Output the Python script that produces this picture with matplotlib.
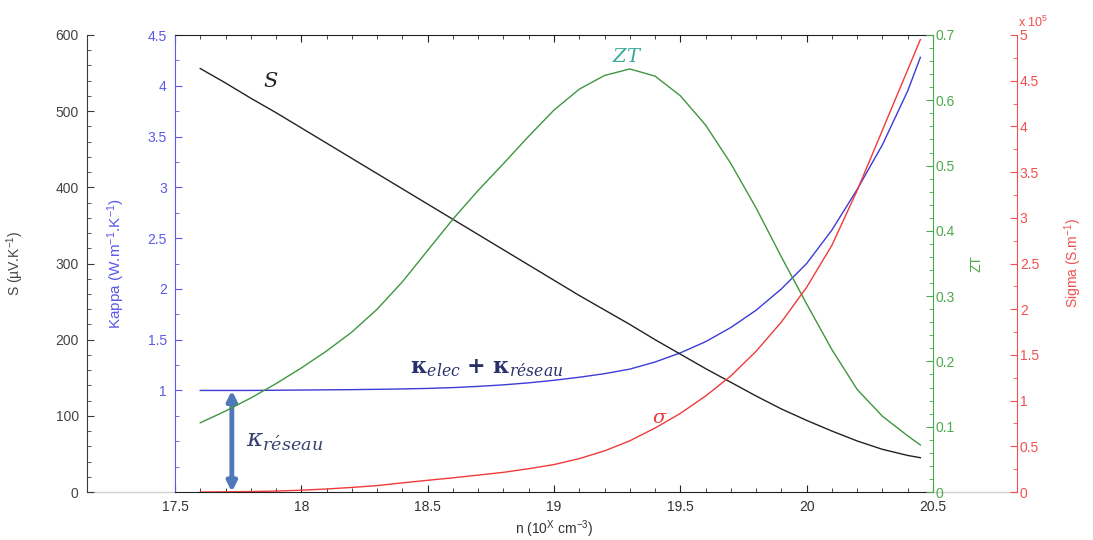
import matplotlib
matplotlib.use("Agg")
import matplotlib.pyplot as plt
from matplotlib.ticker import MultipleLocator, FixedLocator, FormatStrFormatter

plt.rcParams['font.family'] = ['Liberation Sans', 'DejaVu Sans']
plt.rcParams['mathtext.default'] = 'regular'

# ---------------- data ----------------
n = [17.6, 17.7, 17.8, 17.9, 18.0, 18.1, 18.2, 18.3, 18.4, 18.5, 18.6, 18.7, 18.8, 18.9,
     19.0, 19.1, 19.2, 19.3, 19.4, 19.5, 19.6, 19.7, 19.8, 19.9, 20.0, 20.1, 20.2, 20.3,
     20.4, 20.45]
seebeck = [556, 537, 517, 498, 478, 458, 438, 418, 398, 378, 358, 338, 318, 298,
           278, 258, 239, 220, 200, 181, 162, 144, 126, 109, 94, 80, 67, 56,
           48, 45]
kappa = [1.00, 1.00, 1.00, 1.002, 1.004, 1.006, 1.008, 1.011, 1.015, 1.02, 1.028, 1.04,
         1.055, 1.075, 1.10, 1.13, 1.165, 1.21, 1.28, 1.37, 1.48, 1.62, 1.79, 2.00,
         2.25, 2.58, 2.98, 3.42, 3.95, 4.28]
sigma = [0.0, 0.002, 0.005, 0.01, 0.02, 0.033, 0.05, 0.07, 0.10, 0.128, 0.155, 0.185,
         0.215, 0.255, 0.30, 0.365, 0.45, 0.56, 0.70, 0.86, 1.05, 1.27, 1.54, 1.86,
         2.24, 2.70, 3.30, 3.96, 4.62, 4.95]   # x 1e5
zt = [0.106, 0.124, 0.144, 0.166, 0.19, 0.216, 0.245, 0.28, 0.322, 0.37, 0.418, 0.462,
      0.503, 0.545, 0.585, 0.617, 0.638, 0.648, 0.637, 0.607, 0.562, 0.503, 0.435, 0.360,
      0.288, 0.218, 0.157, 0.116, 0.086, 0.072]

x_ticks = [17.5, 18, 18.5, 19, 19.5, 20, 20.5]
s_ticks = [0, 100, 200, 300, 400, 500, 600]
kappa_ticks = [1, 1.5, 2, 2.5, 3, 3.5, 4, 4.5]
zt_ticks = [0, 0.1, 0.2, 0.3, 0.4, 0.5, 0.6, 0.7]
sigma_ticks = [0, 0.5, 1, 1.5, 2, 2.5, 3, 3.5, 4, 4.5, 5]
arrow_n = 17.725

# ---------------- colours ----------------
C_S = '#222222'
C_K = '#3b3bd8'
C_Z = '#3f963f'
C_R = '#f03a3a'
C_SAX = '#3a3a3a'
C_KAX = '#5a5ae6'
C_ZAX = '#4caa4c'
C_RAX = '#f05050'

fig = plt.figure(figsize=(10.93, 5.40), dpi=100)
W, H = 1093, 540
ax = fig.add_axes([175 / W, 48 / H, 758 / W, 457 / H])

# host axis = Kappa
ax.set_xlim(17.5, 20.5)
ax.set_ylim(0, 4.5)
ax.plot(n, kappa, color=C_K, lw=1.0)
ax.set_xticks(x_ticks)
ax.xaxis.set_major_formatter(FormatStrFormatter('%g'))
ax.xaxis.set_minor_locator(MultipleLocator(0.1))
ax.yaxis.set_major_locator(FixedLocator(kappa_ticks))
ax.yaxis.set_major_formatter(FormatStrFormatter('%g'))
ax.yaxis.set_minor_locator(MultipleLocator(0.25))
ax.tick_params(axis='x', which='both', direction='in', top=True, colors='#222222',
               labelcolor='#333333', labelsize=10, pad=6)
ax.tick_params(axis='x', which='major', length=5)
ax.tick_params(axis='x', which='minor', length=3)
ax.tick_params(axis='y', which='both', direction='in', colors=C_KAX, labelcolor=C_KAX,
               labelsize=10, pad=6)
ax.tick_params(axis='y', which='major', length=5)
ax.tick_params(axis='y', which='minor', length=3)
ax.spines['left'].set_color(C_KAX)
ax.spines['right'].set_visible(False)
ax.spines['top'].set_color('#222222')
ax.spines['bottom'].set_color('#222222')
ax.set_xlabel('n (10$^{X}$ cm$^{-3}$)', fontsize=10, color='#333333')
ax.xaxis.set_label_coords(0.5, -0.058)
ax.set_ylabel('Kappa (W.m$^{-1}$.K$^{-1}$)', fontsize=11, color=C_KAX, va='center')
ax.yaxis.set_label_coords(-0.077, 0.5)

# S axis (offset left)
axS = ax.twinx()
axS.set_ylim(0, 600)
axS.plot(n, seebeck, color=C_S, lw=1.0)
axS.yaxis.set_ticks_position('left')
axS.yaxis.set_label_position('left')
axS.spines['left'].set_position(('outward', 88 * 0.72))
axS.spines['left'].set_visible(True)
axS.spines['left'].set_color(C_SAX)
for s in ['right', 'top', 'bottom']:
    axS.spines[s].set_visible(False)
axS.set_yticks(s_ticks)
axS.yaxis.set_minor_locator(MultipleLocator(20))
axS.tick_params(axis='y', which='both', direction='in', colors=C_SAX, labelcolor='#444444',
                labelsize=10, pad=6)
axS.tick_params(axis='y', which='major', length=5)
axS.tick_params(axis='y', which='minor', length=3)
axS.set_ylabel('S (µV.K$^{-1}$)', fontsize=10, color='#444444', va='center')
axS.yaxis.set_label_coords(-0.211, 0.5)

# ZT axis (right)
axZ = ax.twinx()
axZ.set_ylim(0, 0.7)
axZ.plot(n, zt, color=C_Z, lw=1.0)
axZ.spines['right'].set_color(C_ZAX)
for s in ['left', 'top', 'bottom']:
    axZ.spines[s].set_visible(False)
axZ.set_yticks(zt_ticks)
axZ.yaxis.set_major_formatter(FormatStrFormatter('%g'))
axZ.yaxis.set_minor_locator(MultipleLocator(0.02))
axZ.tick_params(axis='y', which='both', direction='in', colors=C_ZAX, labelcolor=C_ZAX,
                labelsize=10, pad=2)
axZ.tick_params(axis='y', which='major', length=5)
axZ.tick_params(axis='y', which='minor', length=3)
axZ.set_ylabel('ZT', fontsize=10, color=C_ZAX, va='center', rotation=90)
axZ.yaxis.set_label_coords(1.057, 0.5)

# Sigma axis (offset right)
axR = ax.twinx()
axR.set_ylim(0, 5)
axR.plot(n, sigma, color=C_R, lw=1.0)
axR.spines['right'].set_position(('outward', 84 * 0.72))
axR.spines['right'].set_color(C_RAX)
for s in ['left', 'top', 'bottom']:
    axR.spines[s].set_visible(False)
axR.set_yticks(sigma_ticks)
axR.yaxis.set_major_formatter(FormatStrFormatter('%g'))
axR.yaxis.set_minor_locator(MultipleLocator(0.25))
axR.tick_params(axis='y', which='both', direction='in', colors=C_RAX, labelcolor=C_RAX,
                labelsize=10, pad=2)
axR.tick_params(axis='y', which='major', length=5)
axR.tick_params(axis='y', which='minor', length=3)
axR.set_ylabel('Sigma (S.m$^{-1}$)', fontsize=10, color=C_RAX, va='center', rotation=90)
axR.yaxis.set_label_coords(1.185, 0.5)
axR.text(1.112, 1.01, 'x 10$^{5}$', transform=axR.transAxes, color=C_RAX, fontsize=9,
         ha='left', va='bottom')

# faint base lines joining the offset axes
ax.plot([-88 / 758, 0], [0, 0], transform=ax.transAxes, clip_on=False, color='#d0d0d0', lw=1)
ax.plot([1, 1 + 84 / 758], [0, 0], transform=ax.transAxes, clip_on=False, color='#d0d0d0', lw=1)

# annotations
ax.annotate('', xy=(arrow_n, 0.0), xytext=(arrow_n, 1.0),
            arrowprops=dict(arrowstyle='<|-|>', color='#4f78b8', lw=3.5, mutation_scale=14,
                            shrinkA=0, shrinkB=0))
ax.text(17.78, 0.50, r'$\mathit{\kappa}_{\mathit{r\acute{e}seau}}$', color='#35406e',
        fontsize=18, math_fontfamily='dejavuserif', ha='left', va='center')
ax.text(18.43, 1.22,
        r'$\mathbf{\kappa}_{\mathit{elec}}\ \mathbf{+}\ \mathbf{\kappa}_{\mathit{r\acute{e}seau}}$',
        color='#28306a', fontsize=16, math_fontfamily='dejavuserif', ha='left', va='center')
ax.text(17.85, 4.04, r'$\mathit{S}$', color='#222222', fontsize=15,
        math_fontfamily='dejavuserif', ha='left', va='center')
ax.text(19.29, 4.28, r'$\mathit{ZT}$', color='#3aa898', fontsize=14,
        math_fontfamily='dejavuserif', ha='center', va='center')
ax.text(19.42, 0.72, r'$\mathit{\sigma}$', color=C_R, fontsize=14,
        math_fontfamily='dejavuserif', ha='center', va='center')

fig.savefig('out.png', dpi=100)
